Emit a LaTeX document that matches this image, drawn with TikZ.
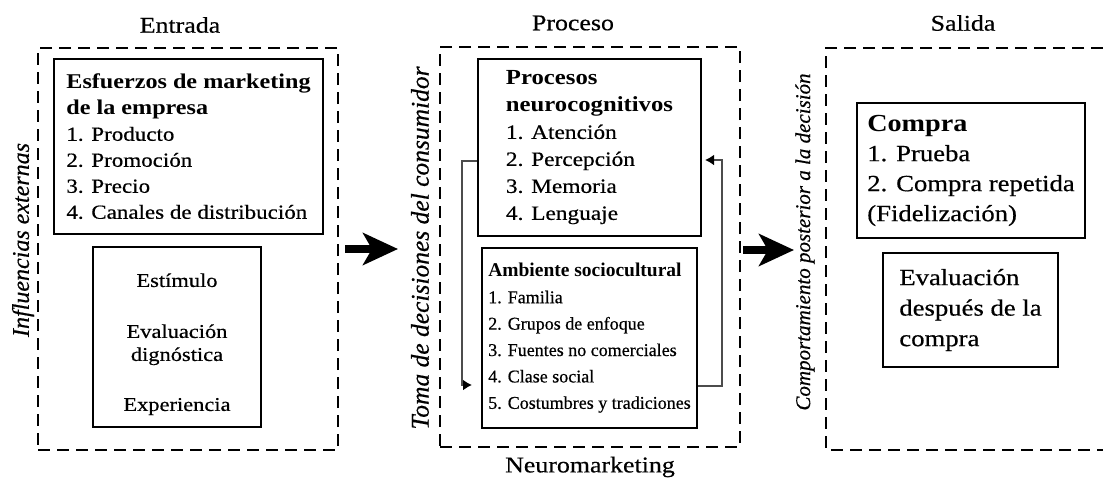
\documentclass[tikz,border=0pt]{standalone}
\usepackage{fontspec}
\setmainfont{Liberation Serif}[UprightFeatures={FakeBold=0.5},ItalicFeatures={FakeBold=0.5}]
\newfontfamily\wide[FakeStretch=1.15,UprightFeatures={FakeBold=0.5}]{Liberation Serif}
\usetikzlibrary{arrows.meta,calc}
\begin{document}
\begin{tikzpicture}[x=1pt,y=-1pt,
  dbox/.style={draw, line width=2.8pt, dash pattern=on 12pt off 7pt},
  sbox/.style={draw, line width=1.9pt, inner sep=0pt},
  bigarr/.style={line width=8pt, -{Stealth[length=35pt,width=32pt,inset=9pt]}},
  fb/.style={draw=black!70, line width=1.8pt, -{Latex[length=9pt,width=11pt,black]}},
  ttl/.style={font=\wide\fontsize{22.5}{27}\selectfont, inner sep=0pt},
  side/.style={rotate=90, inner sep=0pt},
]
\useasboundingbox (0,0) rectangle (1103,485);
\fill[white] (0,0) rectangle (1103,485);

% titles
\node[ttl] (tEnt) at (180,25) {Entrada};
\node[ttl] (tPro) at (573,23) {Proceso};
\node[ttl] (tSal) at (963,23) {Salida};
\node[ttl] (tNeu) at (590,467) {Neuromarketing};

% dashed containers
\node[dbox, minimum width=300, minimum height=402] (ent) at (188,249) {};
\node[dbox, minimum width=300, minimum height=400] (pro) at (590,247) {};
\coordinate (s1) at (1103,48);
\coordinate (s2) at (826,48);
\coordinate (s3) at (826,450);
\coordinate (s4) at (1103,450);
\draw[dbox] (s1) -- (s2) -- (s3) -- (s4);

% side labels
\node[side, font=\itshape\fontsize{24}{28}\selectfont] (lInf) at (23,240) {Influencias externas};
\node[side, font=\itshape\fontsize{25.5}{30}\selectfont] (lToma) at (420,248) {Toma de decisiones del consumidor};
\node[side, font=\itshape\fontsize{21}{25}\selectfont] (lComp) at (805,242) {Comportamiento posterior a la decisión};

% Entrada boxes
\node[sbox, minimum width=269, minimum height=175, align=left,
      font=\wide\fontsize{20}{26}\selectfont] (b1) at (188.5,146.5)
 {{\bfseries\fontsize{21}{26}\selectfont Esfuerzos de marketing}\\
  {\bfseries\fontsize{21}{26}\selectfont de la empresa}\\
  1. Producto\\2. Promoción\\3. Precio\\4. Canales de distribución};
\node[sbox, minimum width=168, minimum height=180, align=center,
      font=\wide\fontsize{19.5}{23}\selectfont] (b2) at (177,337)
 {\rule{0pt}{28pt}Estímulo\\[28pt]Evaluación\\dignóstica\\[27pt]Experiencia};

% Proceso boxes
\node[sbox, minimum width=223, minimum height=177, align=left,
      font=\wide\fontsize{20.3}{27}\selectfont] (proc) at (589.5,147.5)
 {{\bfseries\fontsize{21.5}{27}\selectfont Procesos}\\
  {\bfseries\fontsize{21.5}{27}\selectfont neurocognitivos}\\
  1. Atención\\2. Percepción\\3. Memoria\\4. Lenguaje};
\node[sbox, minimum width=215, minimum height=180, align=left,
      font=\fontsize{18}{26.4}\selectfont] (amb) at (589.5,338)
 {{\bfseries\fontsize{19.5}{26.4}\selectfont Ambiente sociocultural}\\
  1. Familia\\2. Grupos de enfoque\\3. Fuentes no comerciales\\4. Clase social\\5. Costumbres y tradiciones};

% Salida boxes
\node[sbox, minimum width=228, minimum height=135, align=left,
      font=\wide\fontsize{23.2}{30}\selectfont] (comp) at (971,170.5)
 {{\bfseries\fontsize{24.5}{30}\selectfont Compra}\\
  1. Prueba\\2. Compra repetida\\(Fidelización)};
\node[sbox, minimum width=175, minimum height=114, align=left,
      font=\wide\fontsize{23.2}{30.5}\selectfont] (eval) at (970.5,310)
 {Evaluación\\después de la\\compra};

% big arrows
\coordinate (a1s) at (345,249);
\coordinate (a1e) at (398,249);
\coordinate (a2s) at (743,250);
\coordinate (a2e) at (794,250);
\draw[bigarr] (a1s) -- (a1e);
\draw[bigarr] (a2s) -- (a2e);

% feedback loop
\coordinate (lfa) at (462,161);
\coordinate (lfb) at (472,385);
\coordinate (rfa) at (722,386);
\coordinate (rfb) at (705,160);
\draw[fb] (proc.west |- lfa) -- (lfa) |- (lfb);
\draw[fb] (amb.east |- rfa) -- (rfa) |- (rfb);
\end{tikzpicture}
\end{document}
